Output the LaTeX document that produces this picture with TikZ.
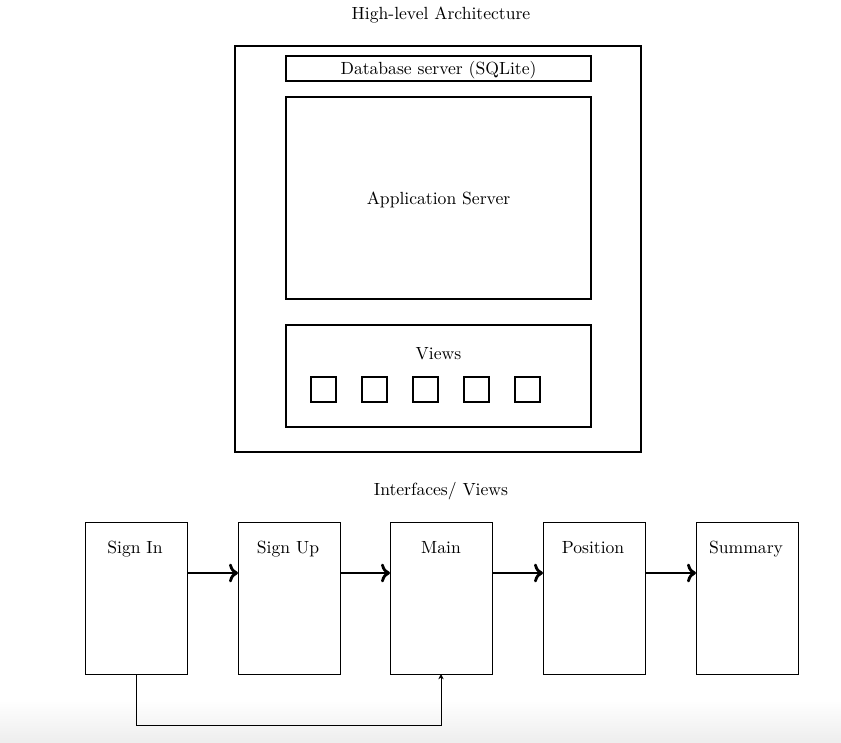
\documentclass[tikz,border=0pt]{standalone}
\usetikzlibrary{arrows.meta}
\begin{document}
\begin{tikzpicture}[x=0.568pt,y=-0.568pt,
  box/.style={draw, thick, rectangle, inner sep=0pt, outer sep=0pt},
  vbox/.style={draw, thin, rectangle, inner sep=0pt, outer sep=0pt, minimum width=102*0.568pt, minimum height=152*0.568pt},
  sqbox/.style={draw, thick, rectangle, inner sep=0pt, minimum size=25*0.568pt},
  lbl/.style={inner sep=0pt},
  blbl/.style={inner sep=0pt, anchor=base},
  flow/.style={->, line width=1.6pt},
  back/.style={thin, -{Stealth[length=3pt,width=3pt]}}]
\useasboundingbox (0,0) rectangle (841,743);
\shade[top color=white, bottom color=black!7] (0,700) rectangle (841,743);

% top part
\node[lbl] (title) at (441,15.5) {High-level Architecture};
\node[box, minimum width=406*0.568pt, minimum height=406*0.568pt] (outer) at (438,249) {};
\node[box, minimum width=305*0.568pt, minimum height=25*0.568pt] (db) at (438.5,68.5) {};
\node[lbl] (dblbl) at (438.5,70) {Database server (SQLite)};
\node[box, minimum width=305*0.568pt, minimum height=202*0.568pt] (app) at (438.5,198) {};
\node[lbl] (applbl) at (438.5,200) {Application Server};
\node[box, minimum width=305*0.568pt, minimum height=102*0.568pt] (views) at (438.5,376) {};
\node[lbl] (viewslbl) at (438.5,353.5) {Views};
\node[sqbox] (s1) at (323.5,389.5) {};
\node[sqbox] (s2) at (374.5,389.5) {};
\node[sqbox] (s3) at (425.5,389.5) {};
\node[sqbox] (s4) at (476.5,389.5) {};
\node[sqbox] (s5) at (527.5,389.5) {};

% bottom part
\node[lbl] (title2) at (441,491.5) {Interfaces/ Views};
\node[vbox] (signin) at (136,598) {};
\node[vbox] (signup) at (289,598) {};
\node[vbox] (main) at (441,598) {};
\node[vbox] (position) at (594,598) {};
\node[vbox] (summary) at (747,598) {};
\node[blbl] (l1) at (135,553.5) {Sign In};
\node[blbl] (l2) at (288,553.5) {Sign Up};
\node[blbl] (l3) at (441,553.5) {Main};
\node[blbl] (l4) at (593,553.5) {Position};
\node[blbl] (l5) at (746,553.5) {Summary};

\coordinate (row) at (0,573);
\draw[flow] (signin.east |- row) -- (signup.west |- row);
\draw[flow] (signup.east |- row) -- (main.west |- row);
\draw[flow] (main.east |- row) -- (position.west |- row);
\draw[flow] (position.east |- row) -- (summary.west |- row);

\draw[back] (signin.south) -- ++(0,51) -| (main.south);
\end{tikzpicture}
\end{document}
